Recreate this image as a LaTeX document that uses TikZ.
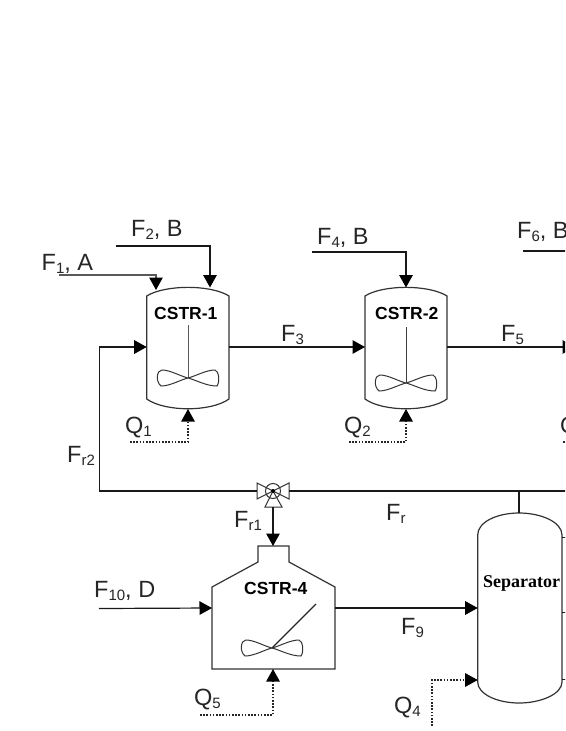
\documentclass[tikz,border=0pt]{standalone}
\usepackage{fontspec}
\setmainfont{Liberation Sans}
\newfontfamily\sepfont{Liberation Serif}
\usetikzlibrary{arrows.meta}
\newcommand{\subs}[1]{\raisebox{-3.5pt}{\fontsize{15}{15}\selectfont #1}}
\tikzset{
  flow/.style={line width=1.4pt,draw=black!90,-{Triangle[length=12.5pt,width=13.5pt,color=black]}},
  pipe/.style={line width=1.4pt,draw=black!90},
  thinflow/.style={line width=1.1pt,draw=black!65,-{Triangle[length=12.5pt,width=13.5pt,color=black]}},
  heat/.style={line width=1.1pt,draw=black!85,dash pattern=on 1.6pt off 1.6pt,-{Triangle[length=12.5pt,width=13.5pt,color=black]}},
  vessel/.style={line width=1.2pt,draw=black!80},
  lab/.style={anchor=base west,inner sep=0pt,font=\fontsize{23.5}{25}\selectfont,text=black!85},
  tag/.style={anchor=base west,inner sep=0pt,font=\fontsize{17.5}{19}\selectfont\bfseries},
  septag/.style={anchor=base west,inner sep=0pt,font=\fontsize{18}{20}\selectfont\bfseries\sepfont},
  blade/.pic={\draw[line width=1pt,draw=black!80]
     (0,0) .. controls (-8,-2) and (-18,-8) .. (-26,-8)
     .. controls (-31,-8) and (-33,3) .. (-27,8)
     .. controls (-18,8) and (-8,2) .. (0,0)
     .. controls (8,-2) and (18,-8) .. (27,-8)
     .. controls (31,-7) and (32,4) .. (29,8)
     .. controls (18,8) and (8,2) .. (0,0);}
}
\begin{document}
\begin{tikzpicture}[x=1pt,y=-1pt]
\useasboundingbox (0,0) rectangle (565,731);
\fill[white] (0,0) rectangle (565,731);
\begin{scope}
\clip (0,0) rectangle (565,731);
% named points
\coordinate (f1s) at (59,275);   \coordinate (f1k) at (156,275); \coordinate (c1a) at (156,290);
\coordinate (f2s) at (116,246);  \coordinate (f2k) at (210,246); \coordinate (c1b) at (210,287.5);
\coordinate (c1w) at (146.7,347);\coordinate (c1e) at (229,347); \coordinate (c1s) at (188,409);
\coordinate (q1s) at (130,442);  \coordinate (q1k) at (188,442);
\coordinate (f4s) at (312,252);  \coordinate (f4k) at (406,252); \coordinate (c2n) at (406,287.5);
\coordinate (c2w) at (365,347);  \coordinate (c2e) at (447,347); \coordinate (c2s) at (406,409);
\coordinate (q2s) at (349,442);  \coordinate (q2k) at (406,442);
\coordinate (f5e) at (575,347);  \coordinate (f6s) at (523,251); \coordinate (f6e) at (570,251);
\coordinate (q3s) at (563,442);  \coordinate (q3e) at (570,442);
\coordinate (vlv) at (273,491);  \coordinate (vl) at (257,491);  \coordinate (vr) at (289,491);
\coordinate (vb) at (273,507);   \coordinate (frk) at (99.5,491);\coordinate (frt) at (99.5,347);
\coordinate (fre) at (570,491);  \coordinate (sept) at (519,491);\coordinate (sepn) at (519,513);
\coordinate (c4n) at (273,546);  \coordinate (c4w) at (212,608); \coordinate (c4e) at (335,608);
\coordinate (c4s) at (273,669);  \coordinate (f10s) at (99,608.5);
\coordinate (q5s) at (200,715);  \coordinate (q5k) at (273,715);
\coordinate (sepw) at (477.7,608);\coordinate (sepq) at (477.7,680);
\coordinate (q4s) at (432,726);  \coordinate (q4k) at (432,680);
% CSTR-1
\draw[vessel] (146.7,296) .. controls (165,284.5) and (211,284.5) .. (229,296) -- (229,399)
  .. controls (211,412) and (165,412) .. (146.7,399) -- cycle;
\draw[line width=0.9pt,draw=black!65] (188,325) -- (188,378);
\pic at (188,378) {blade};
% CSTR-2
\draw[vessel] (365,296) .. controls (383,284.5) and (429,284.5) .. (447,296) -- (447,399)
  .. controls (429,412) and (383,412) .. (365,399) -- cycle;
\draw[line width=1pt,draw=black!75] (406,327) -- (406,383);
\pic at (406,383) {blade};
% CSTR-4
\draw[vessel] (258,546) -- (289,546) -- (289,562) -- (335,587) -- (335,669) -- (212,669) -- (212,587) -- (258,562) -- cycle;
\draw[line width=1.1pt,draw=black!85] (272,648) -- (316,604);
\pic at (272,648) {blade};
% Separator
\draw[vessel] (477.7,535) .. controls (477.7,522) and (497,513) .. (519,513)
  .. controls (541,513) and (562,522) .. (562,535) -- (562,682)
  .. controls (562,694) and (541,703) .. (519,703)
  .. controls (497,703) and (477.7,694) .. (477.7,682) -- cycle;
\draw[pipe,line width=0.8pt] (562,537) -- (566,537) (562,612) -- (566,612) (562,679) -- (566,679);
% Valve
\draw[line width=1pt,draw=black!80] (vlv) circle[radius=7.5];
\draw[line width=1pt,draw=black!80] (vlv) -- (257,483) -- (257,499) -- cycle;
\draw[line width=1pt,draw=black!80] (vlv) -- (289,483) -- (289,499) -- cycle;
\draw[line width=1pt,draw=black!80] (vlv) -- (265,507) -- (282,507) -- cycle;
\fill[black] (vlv) circle[radius=2];
% connectors
\draw[thinflow] (f1s) -- (f1k) -- (c1a);
\draw[flow] (f2s) -- (f2k) -- (c1b);
\draw[flow] (c1e) -- (c2w);
\draw[flow] (f4s) -- (f4k) -- (c2n);
\draw[flow] (c2e) -- (f5e);
\draw[pipe] (f6s) -- (f6e);
\draw[heat] (q1s) -- (q1k) -- (c1s);
\draw[heat] (q2s) -- (q2k) -- (c2s);
\draw[line width=1.1pt,draw=black!85,dash pattern=on 1.6pt off 1.6pt] (q3s) -- (q3e);
\draw[flow] (vl) -- (frk) -- (frt) -- (c1w);
\draw[pipe] (vr) -- (fre);
\draw[pipe] (sept) -- (sepn);
\draw[flow] (vb) -- (c4n);
\draw[flow,line width=1.2pt] (f10s) -- (c4w);
\draw[flow] (c4e) -- (sepw);
\draw[heat] (q5s) -- (q5k) -- (c4s);
\draw[heat] (q4s) -- (q4k) -- (sepq);
% labels
\node[lab] (lf1) at (41.5,270) {F\subs{1}, A};
\node[lab] (lf2) at (131,236) {F\subs{2}, B};
\node[lab] (lf3) at (281,341) {F\subs{3}};
\node[lab] (lf4) at (317,244) {F\subs{4}, B};
\node[lab] (lf5) at (501,341) {F\subs{5}};
\node[lab] (lf6) at (517,238) {F\subs{6}, B};
\node[lab] (lq1) at (125,433) {Q\subs{1}};
\node[lab] (lq2) at (344,433) {Q\subs{2}};
\node[lab] (lq3) at (560,433) {Q\subs{3}};
\node[lab] (lfr2) at (67,462) {F\subs{r2}};
\node[lab] (lfr1) at (234,527) {F\subs{r1}};
\node[lab] (lfr) at (386,520) {F\subs{r}};
\node[lab] (lf9) at (401,634) {F\subs{9}};
\node[lab] (lf10) at (94,597) {F\subs{10}, D};
\node[lab] (lq5) at (194,705) {Q\subs{5}};
\node[lab] (lq4) at (394,713) {Q\subs{4}};
\node[tag] (t1) at (154,319) {CSTR-1};
\node[tag] (t2) at (375,319) {CSTR-2};
\node[tag] (t4) at (244,594) {CSTR-4};
\node[septag] (ts) at (483,587) {Separator};
\end{scope}
\end{tikzpicture}
\end{document}
